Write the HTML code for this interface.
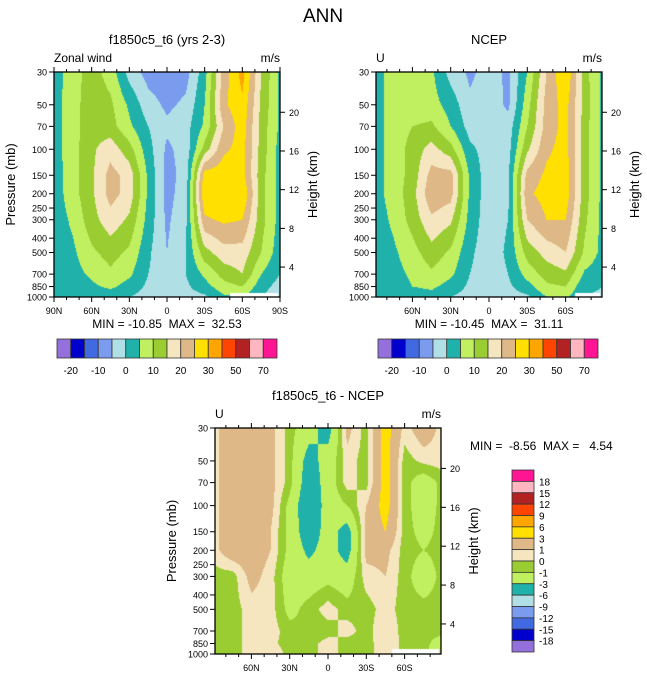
<!DOCTYPE html>
<html><head><meta charset="utf-8">
<style>
body{margin:0;background:#fff;width:647px;height:678px;overflow:hidden;position:relative;font-family:"Liberation Sans",sans-serif}
canvas{position:absolute}
svg{position:absolute;left:0;top:0}
text{white-space:pre}
</style></head>
<body>
<canvas id="c1"></canvas>
<canvas id="c2"></canvas>
<canvas id="c3"></canvas>
<svg id="ov" width="647" height="678"></svg>
<script>
const lats=[90,75,60,45,30,15,0,-15,-30,-45,-60,-75,-90];
const presses=[30,50,70,100,150,200,300,500,700,850,1000];
const modelU=[
[2,8,12,8,-2,-7,-8,-7,3,22,32,15,4],
[3,8,13,11,4,-3,-6,-4,5,24,29,14,4],
[3,8,13,12,6,0,-4,-2,6,20,28,13,4],
[3,8,14,18,12,2,-6,-3,12,24,27,13,3],
[2,8,14,22,18,4,-7,-3,28,28,27,12,3],
[2,8,14,22,18,4,-7,-2,30,27,30,12,3],
[2,6,13,18,14,3,-6,-1,24,26,25,12,3],
[2,4,9,12,9,1,-5,0,13,18,18,10,2],
[1,3,6,9,6,0,-3,0,6,12,15,5,0],
[1,2,4,6,3,-1,-2,-1,3,8,10,2,-2],
[0,1,1,2,0,-2,-3,-2,-1,4,5,0,-3]];
const ncepU=[
[3,7,7,6,-2,-6,-3,-6,5,20,30,12,3],
[3,7,7,7,3,-4,-2,-6,8,22,27,13,3],
[3,7,10,11,5,-2,-1,-3,10,22,27,12,3],
[3,7,12,17,12,1,-2,-2,14,24,27,12,3],
[3,7,12,22,22,4,-3,-1,22,26,28,12,3],
[3,7,13,24,22,4,-3,-1,24,27,28,12,3],
[2,6,12,19,16,3,-3,0,20,25,25,11,3],
[2,4,8,13,9,1,-3,1,12,17,20,9,3],
[1,3,6,9,6,0,-3,0,7,12,14,4,2],
[1,2,5,6,3,-1,-2,-1,3,9,10,1,0],
[0,1,2,3,0,-2,-2,-2,-1,5,6,0,-1]];
const diffU=[
[0.5,2,2,1.5,-0.5,-2,-4,1.5,-0.5,4,0.5,2,0.5],
[0.5,2,2,1.5,-0.5,-4,-2,0.5,-0.5,4,-0.5,0.3,0.5],
[0.5,2,2,1.5,-0.5,-4.5,-2,0.5,-0.5,4,-0.5,-2,-0.5],
[0.5,2,2,1.5,-1.5,-5,-2,-1,1,4,-0.5,-2,-0.5],
[0.5,2,2,1,-1.5,-4.5,-2,-4,1.5,3,-0.5,-1.5,-0.5],
[0.5,2,2,1,-1.5,-3.5,-2,-4,1.5,1.5,-0.5,-1,-0.5],
[-0.5,-0.5,1.5,0.5,-2,-2,-1.5,-2,0.5,1,-0.5,-2,-0.5],
[-0.5,-0.5,0.5,0.5,-1.5,-0.5,0.5,-0.5,-0.5,0.5,-0.5,-0.5,-0.5],
[-0.5,-0.5,0.5,0.5,-0.5,-1,-0.5,0.5,-0.5,1,-0.5,-0.5,-0.5],
[-0.5,-0.5,0.5,0.3,-0.5,-0.5,0.5,-0.5,-0.5,0.8,-0.3,-0.5,-2],
[-0.5,-0.5,0.5,1,-0.5,-0.5,0.5,-0.5,-0.5,0.8,-0.3,-0.5,-3]];
const levelsU=[-20,-15,-10,-5,0,5,10,15,20,25,30,40,50,60,70];
const levelsD=[-18,-15,-12,-9,-6,-3,-1,0,1,3,6,9,12,15,18];
const labelsU=["-20","-10","0","10","20","30","50","70"];
const labelsD=["18","15","12","9","6","3","1","0","-1","-3","-6","-9","-12","-15","-18"];
const pTicks=[30,50,70,100,150,200,250,300,400,500,700,850,1000];
const kmTicks=[4,8,12,16,20];
const colors=["#9370DB","#0000CD","#4169E1","#7B9BEF","#B0E0E6","#20B2AA","#C0F060","#9ACD32","#F5E6C0","#DEB887","#FFE000","#FFA500","#FF4500","#B22222","#FFB6C1","#FF1493"];

const NS="http://www.w3.org/2000/svg";
const ov=document.getElementById('ov');
function el(tag,attrs,txt){const e=document.createElementNS(NS,tag);for(const k in attrs)e.setAttribute(k,attrs[k]);if(txt!==undefined)e.textContent=txt;ov.appendChild(e);return e;}
function hex(c){return [parseInt(c.substr(1,2),16),parseInt(c.substr(3,2),16),parseInt(c.substr(5,2),16)];}
const rgb=colors.map(hex);
const L0=Math.log10(30),L1=Math.log10(1000);
function field(data,lat,p){
  let fi=(90-lat)/15;fi=Math.max(0,Math.min(12,fi));
  const lp=Math.log10(p);
  let ri=0;while(ri<presses.length-2&&Math.log10(presses[ri+1])<lp)ri++;
  const a=Math.log10(presses[ri]),b=Math.log10(presses[ri+1]);
  let t=(lp-a)/(b-a);t=Math.max(0,Math.min(1,t));
  const i0=Math.min(11,Math.floor(fi)),s=fi-i0;
  const v0=data[ri][i0]*(1-s)+data[ri][i0+1]*s;
  const v1=data[ri+1][i0]*(1-s)+data[ri+1][i0+1]*s;
  return v0*(1-t)+v1*t;
}
function level(v,lev){let k=0;while(k<lev.length&&v>=lev[k])k++;return k;}
function kmFrac(z){return 0.867-(z-4)*0.0430;}

function panel(o){
  const c=document.getElementById(o.cid);
  const w=o.x1-o.x0,h=o.y1-o.y0;
  c.width=w;c.height=h;c.style.left=o.x0+'px';c.style.top=o.y0+'px';
  const ctx=c.getContext('2d');const im=ctx.createImageData(w,h);
  const xs=x=>o.x0+(o.latL-x)/(o.latL-o.latR)*w;
  for(let j=0;j<h;j++){
    const p=Math.pow(10,L0+(j+0.5)/h*(L1-L0));
    for(let i=0;i<w;i++){
      const lat=o.latL-(i+0.5)/w*(o.latL-o.latR);
      const k=level(field(o.data,lat,p),o.lev);
      const q=(j*w+i)*4;const col=rgb[k];
      im.data[q]=col[0];im.data[q+1]=col[1];im.data[q+2]=col[2];im.data[q+3]=255;
    }
  }
  ctx.putImageData(im,0,0);
  ctx.fillStyle="#fff";ctx.fillRect(o.wx-o.x0,h-o.wh,o.x1-o.wx-2,o.wh);
  const yp=p=>o.y0+(Math.log10(p)-L0)/(L1-L0)*h;
  el('rect',{x:o.x0,y:o.y0,width:w,height:h,fill:'none',stroke:'#000','stroke-width':1.3,});
  pTicks.forEach(p=>{const y=yp(p);
    el('line',{x1:o.x0-5,x2:o.x0,y1:y,y2:y,stroke:'#000'});
    const t=el('text',{x:o.x0-7,y:y+3.5,'font-size':9,'text-anchor':'end'},String(p));
    });
  kmTicks.forEach(z=>{const y=o.y0+kmFrac(z)*h;
    el('line',{x1:o.x1,x2:o.x1+5,y1:y,y2:y,stroke:'#000'});
    const t=el('text',{x:o.x1+9,y:y+3.5,'font-size':9},String(z));
    });
  for(let lat=90;lat>=-90;lat-=10){if(lat>o.latL||lat<o.latR)continue;const x=xs(lat);const maj=lat%30===0;const L=maj?5:3;
    el('line',{x1:x,x2:x,y1:o.y1,y2:o.y1+L,stroke:'#000'});el('line',{x1:x,x2:x,y1:o.y0,y2:o.y0-L,stroke:'#000'});
    if(maj){const s=lat===0?'0':Math.abs(lat)+(lat>0?'N':'S');
      const t=el('text',{x:x,y:o.y1+17,'font-size':9,'text-anchor':'middle'},s);
      }}
  if(o.px!==null){
    const attrs={x:0,y:0,'font-size':13,'text-anchor':'middle',transform:`translate(${o.px},${(o.y0+o.y1)/2}) rotate(-90)`};
    if(o.clip)attrs['clip-path']='url(#'+o.clip+')';
    const pl=el('text',attrs,'Pressure (mb)');
    
  }
  const hl=el('text',{x:0,y:0,'font-size':13,'text-anchor':'middle',transform:`translate(${o.hx},${(o.y0+o.y1)/2}) rotate(-90)`},'Height (km)');
  
  const lt=el('text',{x:o.x0,y:o.y0-10,'font-size':12},o.left);
  
  const ut=el('text',{x:o.x1,y:o.y0-10,'font-size':12,'text-anchor':'end'},'m/s');
  
  const tt=el('text',{x:(o.x0+o.x1)/2,y:o.y0-28,'font-size':13,'text-anchor':'middle'},o.title);
  
}
const defs=el('defs',{});
const cp=document.createElementNS(NS,'clipPath');cp.setAttribute('id','clipR');cp.setAttribute('clipPathUnits','userSpaceOnUse');
const cr=document.createElementNS(NS,'rect');cr.setAttribute('x',328);cr.setAttribute('y',0);cr.setAttribute('width',40);cr.setAttribute('height',678);
cp.appendChild(cr);defs.appendChild(cp);

const at=el('text',{x:323,y:22,'font-size':19,'text-anchor':'middle'},'ANN');

panel({cid:'c1',name:'model',data:modelU,lev:levelsU,x0:54,x1:280,y0:72,y1:297,latL:90,latR:-90,wx:230,wh:4,px:15,hx:317,left:'Zonal wind',title:'f1850c5_t6 (yrs 2-3)'});
panel({cid:'c2',name:'ncep',data:ncepU,lev:levelsU,x0:376,x1:602,y0:72,y1:297,latL:88.5,latR:-88.5,wx:575,wh:4,px:331,clip:'clipR',hx:639,left:'U',title:'NCEP'});
panel({cid:'c3',name:'diff',data:diffU,lev:levelsD,x0:215,x1:441,y0:428,y1:654,latL:88.5,latR:-88.5,wx:392,wh:5,px:176,hx:478,left:'U',title:'f1850c5_t6 - NCEP'});
[[167,'MIN = -10.85  MAX =  32.53'],[489,'MIN = -10.45  MAX =  31.11']].forEach(a=>{
  const t=el('text',{x:a[0],y:328,'font-size':12,'text-anchor':'middle'},a[1]);
  });
const mm=el('text',{x:470,y:450,'font-size':12},'MIN =  -8.56  MAX =   4.54');

[57,378].forEach(x0=>{
  const bw=220/16;
  colors.forEach((c,i)=>{const r=el('rect',{x:x0+i*bw,y:339,width:bw,height:19,fill:c,stroke:'#333','stroke-width':0.8});
    });
  labelsU.forEach((s,i)=>{const t=el('text',{x:x0+bw*(2*i+1),y:374,'font-size':10,'text-anchor':'middle'},s);
    });
});
const bh=182/16;
colors.slice().reverse().forEach((c,i)=>{const r=el('rect',{x:512,y:470+i*bh,width:22,height:bh,fill:c,stroke:'#333','stroke-width':0.8});
  });
labelsD.forEach((s,i)=>{const t=el('text',{x:539,y:470+bh*(i+1)+4,'font-size':10},s);
  });
</script>
</body></html>
